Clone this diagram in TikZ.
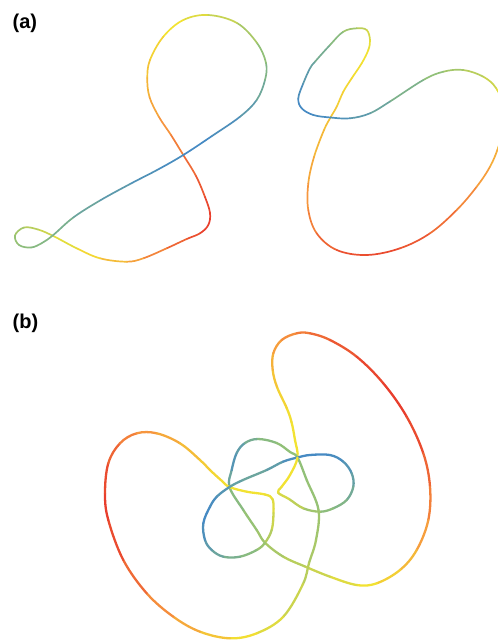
\documentclass[tikz,border=0pt]{standalone}
\usepackage{fontspec}
\setmainfont{Liberation Sans}
\usetikzlibrary{calc}
\definecolor{cola}{RGB}{232,62,45}
\definecolor{colb}{RGB}{246,150,62}
\definecolor{colc}{RGB}{242,226,50}
\definecolor{cold}{RGB}{145,192,120}
\definecolor{cole}{RGB}{70,138,195}
\tikzset{
  curvestyle/.style={line cap=round, line join=round},
  panellabel/.style={anchor=west, inner sep=0pt, font=\fontsize{20}{24}\selectfont\bfseries}
}
\newcommand\pickcol[1]{%
  \pgfmathsetmacro\cvv{#1}%
  \pgfmathtruncatemacro\ckk{min(floor(\cvv),3)}%
  \pgfmathtruncatemacro\cpp{round(100*(\cvv-\ckk))}%
  \ifcase\ckk \colorlet{segc}{colb!\cpp!cola}%
  \or \colorlet{segc}{colc!\cpp!colb}%
  \or \colorlet{segc}{cold!\cpp!colc}%
  \or \colorlet{segc}{cole!\cpp!cold}%
  \fi}
\newcommand\closedcurve[3]{%
  \foreach \px/\py/\pv [count=\ii] in {#3} {
    \coordinate (#1\ii) at (\px,\py);
    \expandafter\xdef\csname #1v\ii\endcsname{\pv}%
    \xdef\curvenum{\ii}%
  }
  \foreach \ii in {1,...,\curvenum} {
    \pgfmathtruncatemacro\inext{mod(\ii,\curvenum)+1}
    \pgfmathtruncatemacro\inn{mod(\ii+1,\curvenum)+1}
    \pgfmathtruncatemacro\iprev{mod(\ii+\curvenum-2,\curvenum)+1}
    \edef\vA{\csname #1v\ii\endcsname}%
    \edef\vB{\csname #1v\inext\endcsname}%
    \pickcol{0.5*(\vA+\vB)}
    \draw[curvestyle, line width=#2, segc]
      (#1\ii) .. controls ($(#1\ii)+0.1667*(#1\inext)-0.1667*(#1\iprev)$)
      and ($(#1\inext)-0.1667*(#1\inn)+0.1667*(#1\ii)$) .. (#1\inext);
  }
}
\begin{document}
\begin{tikzpicture}[x=1pt,y=-1pt]
\useasboundingbox (0,0) rectangle (498,640);
\clip (0,0) rectangle (498,640);
\node[panellabel] (la) at (12.5,23.5) {(a)};
\node[panellabel] (lb) at (12.5,323) {(b)};
% panel (a), left curve
\closedcurve{pa}{1.7pt}{208.3/15/2.3, 183.3/20/2.1, 163.3/36.7/1.9, 150/60/1.7,
 147.3/78/1.5, 149.5/97/1.3, 159/117/1.1, 171/135/0.85, 183.3/155/0.6,
 196/176/0.4, 205/197/0.2, 210/213/0.0, 208.3/225/0.0, 200/233.3/0.1,
 186.7/239/0.3, 166.7/248.3/0.6, 143.3/258.3/1.0, 126.7/261.7/1.3, 100/258.3/1.7,
 76.7/248.3/2.0, 53.3/236/2.3, 38/229.5/2.5, 24/227.5/2.7, 15/235.5/2.9,
 19/245/3.0, 31/247.5/3.1, 42/243/3.15, 53.3/235/3.2, 73.3/217.5/3.4, 100/200.5/3.6,
 131/183.5/3.8, 158/169.5/3.9, 183.3/155/4.0, 212/136/4.0, 240/116.7/3.8,
 256.7/100/3.6, 265/80/3.3, 266/63/3.1, 257/43/2.9, 237/23/2.6}
% panel (a), right curve
\closedcurve{pb}{1.7pt}{356.7/28.3/2.7, 366.7/30/2.4, 370/40/2.2, 368.3/50/2.0,
 361.7/63.3/2.0, 351.7/78.3/1.9, 343.3/91.7/1.8, 336.7/106.7/1.7, 330.5/117.5/1.6,
 324/130/1.5, 314/157/1.35, 308.3/183.3/1.1, 308.3/210/0.9, 316.7/233.3/0.6,
 336.7/250/0.3, 366.7/255/0.1, 400/248.3/0.2, 430/233.3/0.4, 456.7/210/0.7,
 476.7/186.7/1.0, 490/166.7/1.2, 498/148/1.4, 503/128/1.7, 503/106/2.0,
 496/88/2.3, 483.3/76.7/2.5, 463.3/70/2.7, 443.3/71.7/2.9, 423.3/80/3.1,
 390/101.5/3.4, 370/113.3/3.6, 350/118.3/3.8, 330.5/117.5/3.9, 313.3/115/4.0,
 301.7/108.3/4.0, 298.3/98.3/4.0, 303.3/83.3/3.8, 310/68.3/3.6, 315/61.7/3.5,
 330/45/3.2, 343.3/31.7/3.0}
% panel (b)
\closedcurve{pc}{2.3pt}{297.5/457.5/2.0, 295/440/2.0, 291.5/422/2.0, 286.7/408/1.9,
 277/387/1.7, 272.7/370/1.5, 273.3/353.3/1.2, 281.7/340/1.0, 296.7/333.3/0.8,
 310/333.3/0.6, 330/340/0.4, 356.7/356.7/0.2, 383.3/383.3/0.0, 406.7/416.7/0.0,
 423.3/453.3/0.3, 430/486.7/0.6, 428.3/520/0.9, 416.7/550/1.3, 400/570/1.6,
 376.7/583.3/1.9, 356.7/585/2.1, 330/576.7/2.3, 305/566.5/2.5, 283.3/556.7/2.7,
 265/542.7/2.8, 256.7/530/2.9, 243.3/510/3.0, 229.5/487/3.2, 231.7/470/3.8,
 236.7/453/3.8, 245/443/3.5, 258/439/3.2, 276.7/443/3.0, 290/452/3.0,
 297.5/457.5/3.0, 306.7/480/3.0, 318.5/510/2.9, 316/540/2.8, 309/563/2.7,
 303/584/2.5, 283.3/616.7/2.3, 256.7/633.3/2.1, 230/638.3/1.8, 200/631.7/1.4,
 173.3/616.7/1.1, 146.7/593.3/0.7, 123.3/560/0.3, 108.3/520/0.0, 105/493.3/0.0,
 108.3/463.3/0.3, 120/443.3/0.6, 136.7/433.3/0.9, 156.7/433.3/1.1, 180/443.3/1.4,
 200/460/1.6, 211/471/1.8, 222/481/1.9, 229.5/487/2.0, 246.7/491.7/2.0,
 265/494.5/2.0, 272.5/499/2.1, 273.5/513/2.3, 271.7/530/2.5, 265/542.7/2.8,
 256.7/550/3.0, 240/556.7/3.2, 223.3/556.7/3.4, 211.7/550/3.6, 205/540/3.8,
 203.3/523.3/4.0, 210/506.7/4.0, 217/496.5/3.9, 229.5/487/3.7, 243/480/3.5,
 266.7/470/3.5, 283/461.7/3.8, 297.5/457.5/4.0, 310/455/4.0, 330/455/4.0,
 343.3/461.7/3.9, 351.7/473.3/3.7, 353.3/486.7/3.5, 346.7/500/3.3, 333.3/508.3/3.1,
 320/511.7/3.0, 303.3/508.3/2.7, 289/499/2.4, 278/492.5/2.2, 281.7/486.7/2.0,
 290/475/2.0}
\end{tikzpicture}
\end{document}
